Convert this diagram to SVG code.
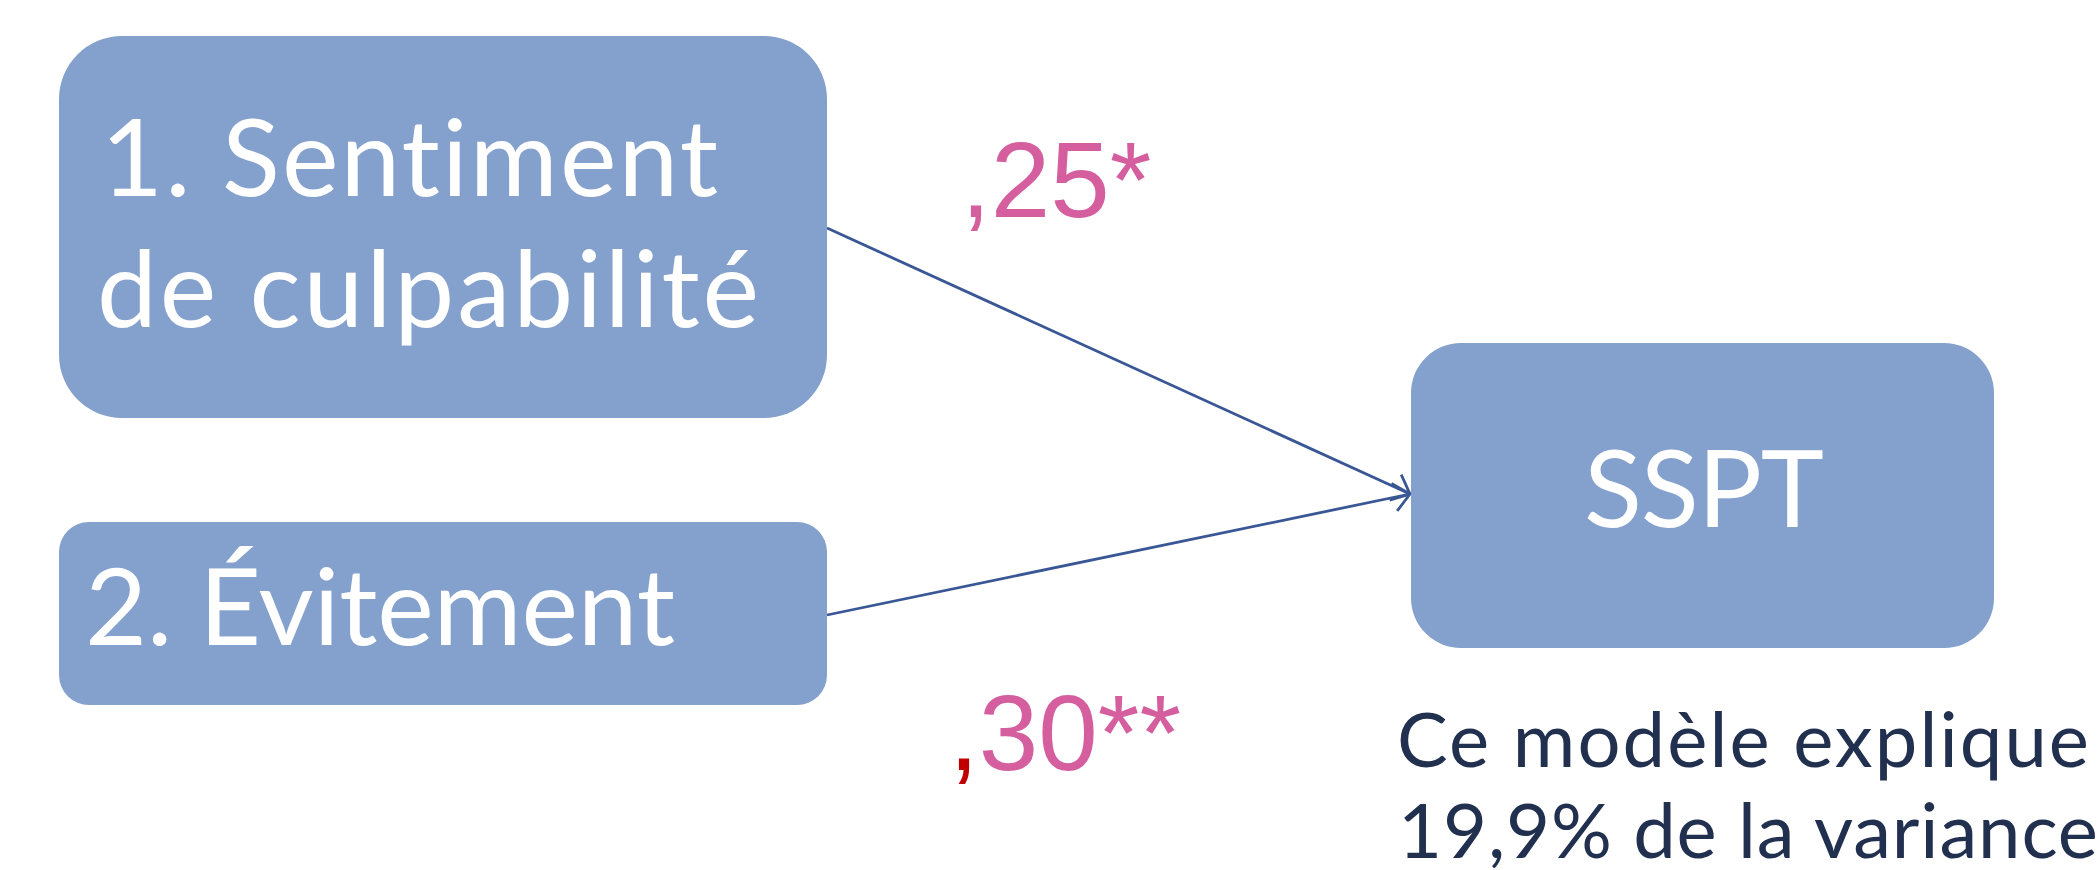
<svg xmlns="http://www.w3.org/2000/svg" width="2100" height="870" viewBox="0 0 2100 870">
<defs>
<style>
.box{fill:#84A0CD;}
.lbl{font-family:Lato,"Noto Sans",sans-serif;fill:#FFFFFF;font-size:107px;font-variant-ligatures:none;}
.coef{font-family:"Liberation Sans",Arial,sans-serif;fill:#D55E9F;font-size:107px;}
.note{font-family:Lato,"Noto Sans",sans-serif;fill:#22304F;font-size:76px;font-variant-ligatures:none;}
.conn{stroke:#3A5795;stroke-width:2.8;fill:none;}
</style>
<marker id="arr" viewBox="0 0 20 32" refX="19" refY="16" markerWidth="20" markerHeight="32" markerUnits="userSpaceOnUse" orient="auto">
<path d="M3,2 L19,16 L3,30" fill="none" stroke="#3A5795" stroke-width="2.8"/>
</marker>
</defs>
<rect width="2100" height="870" fill="#FFFFFF"/>
<g id="connectors">
<line class="conn" x1="827" y1="228" x2="1410" y2="494" marker-end="url(#arr)"/>
<line class="conn" x1="827" y1="615" x2="1410" y2="494" marker-end="url(#arr)"/>
</g>
<g id="node-culpabilite">
<rect class="box" x="59" y="36" width="768" height="382" rx="63" ry="63"/>
<text class="lbl" x="101" y="196" textLength="617">1. Sentiment</text>
<text class="lbl" x="97" y="327" textLength="662">de culpabilité</text>
</g>
<g id="node-evitement">
<rect class="box" x="59" y="522" width="768" height="183" rx="30" ry="30"/>
<text class="lbl" x="85" y="645" textLength="590">2. Évitement</text>
</g>
<g id="node-sspt">
<rect class="box" x="1411" y="343" width="583" height="305" rx="50" ry="50"/>
<text class="lbl" x="1704" y="527" text-anchor="middle" textLength="240">SSPT</text>
</g>
<g id="label-25">
<text class="coef" x="961" y="217">,25*</text>
</g>
<g id="label-30">
<text class="coef" x="949" y="770"><tspan fill="#C00000">,</tspan>30**</text>
</g>
<g id="note">
<text class="note" x="1397" y="767" textLength="692">Ce modèle explique</text>
<text class="note" x="1398" y="858" textLength="700">19,9% de la variance</text>
</g>
</svg>
